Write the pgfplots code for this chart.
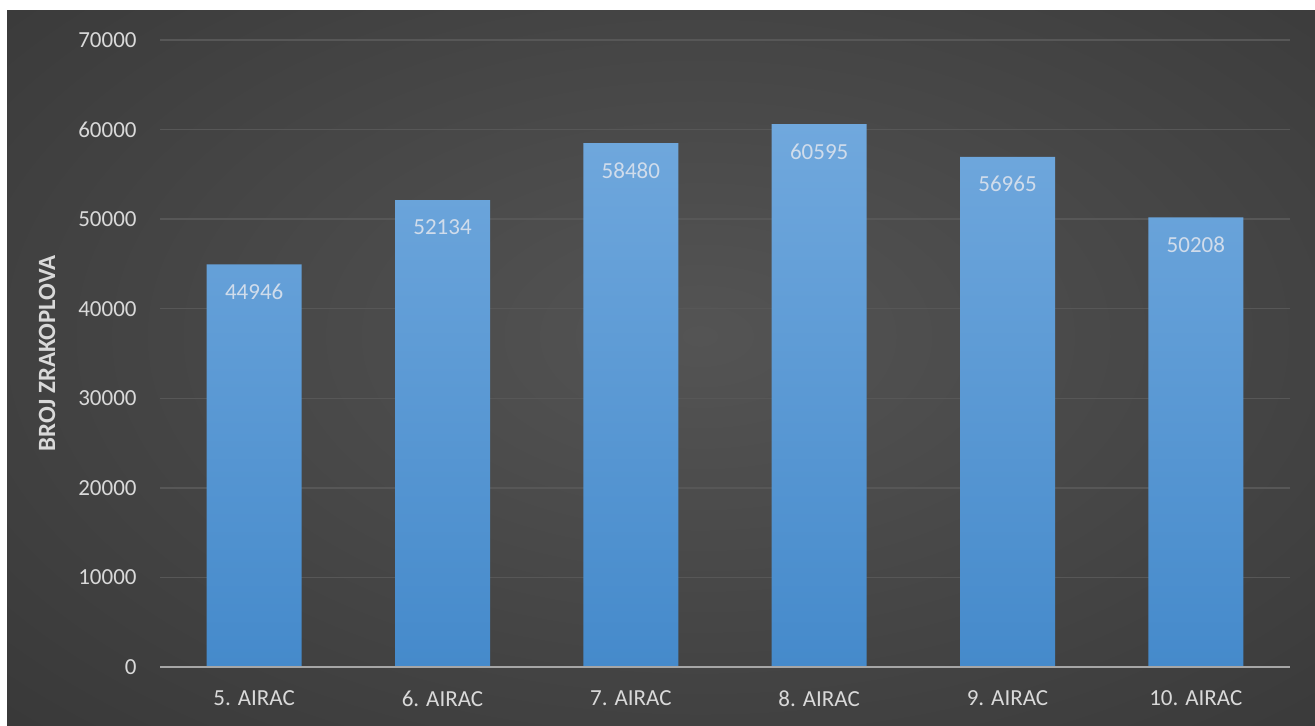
\documentclass[border=0pt]{standalone}
\usepackage{pgfplots}
\pgfplotsset{compat=1.18}
\usepackage{fontspec}
\setmainfont{Carlito}
\definecolor{bgin}{HTML}{545454}
\definecolor{bgout}{HTML}{262626}
\definecolor{tickc}{HTML}{D9D9D9}
\definecolor{gridc}{HTML}{575757}
\definecolor{axc}{HTML}{A6A6A6}
\definecolor{bartop}{HTML}{70A8DD}
\definecolor{barbot}{HTML}{458ACB}
\definecolor{lblc}{HTML}{D0DCEB}
\pgfdeclareradialshading{bgshade}{\pgfpoint{0bp}{0bp}}{color(0bp)=(bgin); color(50bp)=(bgout)}
\begin{document}
\begin{tikzpicture}
\fill[white] (0,0) rectangle (657.5pt,363pt);
\begin{scope}
\clip (3.5pt,0) rectangle (657.5pt,357.5pt);
\shade[shading=bgshade] (-60pt,-40pt) rectangle (760pt,430pt);
\end{scope}
\begin{axis}[
  at={(80pt,29.5pt)}, anchor=south west,
  width=565pt, height=313.5pt, scale only axis,
  xmin=-0.5, xmax=5.5, ymin=0, ymax=70000,
  ytick={0,10000,...,70000},
  xtick={0,...,5},
  xticklabels={5. AIRAC,6. AIRAC,7. AIRAC,8. AIRAC,9. AIRAC,10. AIRAC},
  scaled y ticks=false,
  /pgf/number format/1000 sep={},
  /pgf/number format/assume math mode=true,
  axis line style={draw=none},
  major tick length=0pt,
  ymajorgrids, grid style={draw=gridc, line width=0.7pt},
  tick label style={color=tickc, font=\fontsize{11.5}{13}\selectfont},
  yticklabel style={inner sep=0pt, xshift=-11.5pt},
  xticklabel style={inner sep=0pt, anchor=north, yshift=-11.8pt},
  ylabel={BROJ ZRAKOPLOVA},
  every axis y label/.style={at={(axis description cs:-0.1,0.5)}, rotate=90, anchor=center, color=tickc, font=\fontsize{12.4}{14}\selectfont\bfseries},
  clip=false,
]
\addplot[ybar, bar width=47.5pt, draw=none, top color=bartop, bottom color=barbot,
  nodes near coords, nodes near coords align={below},
  every node near coord/.append style={inner sep=0pt, yshift=-9.5pt, color=lblc, font=\fontsize{11.5}{13}\selectfont}]
  coordinates {(0,44946) (1,52134) (2,58480) (3,60595) (4,56965) (5,50208)};
\draw[axc, line width=1pt] (axis cs:-0.5,0) -- (axis cs:5.5,0);
\end{axis}
\end{tikzpicture}
\end{document}
